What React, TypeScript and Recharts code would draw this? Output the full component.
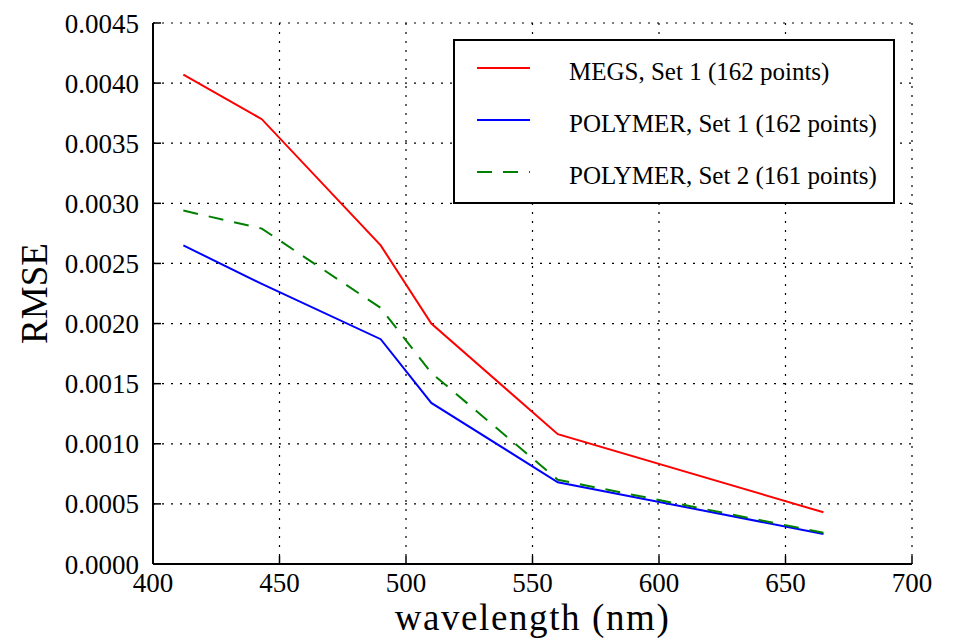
import { LineChart, Line, XAxis, YAxis, CartesianGrid, Legend } from 'recharts';

const wavelengths = [412, 443, 490, 510, 560, 665];
const megsSet1 = [0.00407, 0.0037, 0.00265, 0.002, 0.00108, 0.00043];
const polymerSet1 = [0.00265, 0.00233, 0.00187, 0.00134, 0.00068, 0.00025];
const polymerSet2 = [0.00294, 0.00279, 0.00213, 0.00159, 0.0007, 0.00026];

const xTicks = [400, 450, 500, 550, 600, 650, 700];
const yTicks = [0, 0.0005, 0.001, 0.0015, 0.002, 0.0025, 0.003, 0.0035, 0.004, 0.0045];

const seriesNames = [
  'MEGS, Set 1 (162 points)',
  'POLYMER, Set 1 (162 points)',
  'POLYMER, Set 2 (161 points)',
];

const data = wavelengths.map((w, i) => ({
  wl: w,
  megs1: megsSet1[i],
  poly1: polymerSet1[i],
  poly2: polymerSet2[i],
}));

const FONT = 'Liberation Serif, DejaVu Serif, serif';
const tickStyle = { fill: '#000', fontSize: 27, style: { fontFamily: FONT } };

function YLabel(props: any) {
  const vb = props.viewBox || {};
  const cy = vb.y + vb.height / 2;
  return (
    <text
      x={47}
      y={cy}
      transform={`rotate(-90, 47, ${cy})`}
      textAnchor="middle"
      fill="#000"
      style={{ fontFamily: FONT, fontSize: 37 }}
    >
      RMSE
    </text>
  );
}

function XLabel(props: any) {
  const vb = props.viewBox || {};
  return (
    <text
      x={vb.x + vb.width / 2}
      y={630}
      textAnchor="middle"
      fill="#000"
      style={{ fontFamily: FONT, fontSize: 37, letterSpacing: 1.6 }}
    >
      wavelength (nm)
    </text>
  );
}

function LegendBox(props: any) {
  const items = props.payload || [];
  return (
    <svg width={442} height={165} style={{ display: 'block' }}>
      <rect x={1} y={1} width={440} height={163} fill="#fff" stroke="#000" strokeWidth={2} />
      {items.map((item: any, i: number) => {
        const y = 29 + i * 52;
        return (
          <g key={item.value}>
            <line
              x1={24}
              x2={77}
              y1={y}
              y2={y}
              stroke={item.color}
              strokeWidth={2}
              strokeDasharray={item.payload && item.payload.strokeDasharray}
            />
            <text x={116} y={y + 12} fill="#000" style={{ fontFamily: FONT, fontSize: 25 }}>
              {item.value}
            </text>
          </g>
        );
      })}
    </svg>
  );
}

export default function App() {
  return (
    <div style={{ position: 'absolute', left: 0, top: 0, background: '#fff', fontFamily: FONT }}>
      <LineChart
        width={956}
        height={643}
        data={data}
        margin={{ top: 23, right: 44, left: 0, bottom: 0 }}
        style={{ fontFamily: FONT }}
      >
        <CartesianGrid stroke="#000" strokeWidth={1.2} strokeDasharray="2 7" />
        <XAxis
          dataKey="wl"
          type="number"
          domain={[400, 700]}
          ticks={xTicks}
          height={79}
          tick={tickStyle}
          tickSize={-8}
          tickMargin={17}
          axisLine={{ stroke: '#000', strokeWidth: 2 }}
          tickLine={{ stroke: '#000', strokeWidth: 1.5 }}
          label={<XLabel />}
          interval={0}
        />
        <XAxis
          xAxisId="top"
          orientation="top"
          dataKey="wl"
          type="number"
          domain={[400, 700]}
          ticks={xTicks}
          height={0}
          tick={false}
          tickSize={-8}
          axisLine={{ stroke: '#000', strokeWidth: 2 }}
          tickLine={{ stroke: '#000', strokeWidth: 1.5 }}
        />
        <YAxis
          type="number"
          domain={[0, 0.0045]}
          ticks={yTicks}
          width={153}
          tick={tickStyle}
          tickFormatter={(v: number) => v.toFixed(4)}
          tickSize={-8}
          tickMargin={22}
          axisLine={{ stroke: '#000', strokeWidth: 2 }}
          tickLine={{ stroke: '#000', strokeWidth: 1.5 }}
          label={<YLabel />}
          interval={0}
        />
        <YAxis
          yAxisId="right"
          orientation="right"
          type="number"
          domain={[0, 0.0045]}
          ticks={yTicks}
          width={0}
          tick={false}
          tickSize={-8}
          axisLine={{ stroke: '#000', strokeWidth: 2 }}
          tickLine={{ stroke: '#000', strokeWidth: 1.5 }}
        />
        <Legend
          layout="vertical"
          align="center"
          verticalAlign="middle"
          content={<LegendBox />}
          wrapperStyle={{ left: 453, top: 39, width: 442, height: 165 }}
        />
        <Line
          type="linear"
          dataKey="megs1"
          name={seriesNames[0]}
          stroke="#ff0000"
          strokeWidth={2}
          dot={false}
          isAnimationActive={false}
        />
        <Line
          type="linear"
          dataKey="poly1"
          name={seriesNames[1]}
          stroke="#0000ff"
          strokeWidth={2}
          dot={false}
          isAnimationActive={false}
        />
        <Line
          type="linear"
          dataKey="poly2"
          name={seriesNames[2]}
          stroke="#008000"
          strokeWidth={2}
          strokeDasharray="15 11"
          dot={false}
          isAnimationActive={false}
        />
      </LineChart>
    </div>
  );
}
